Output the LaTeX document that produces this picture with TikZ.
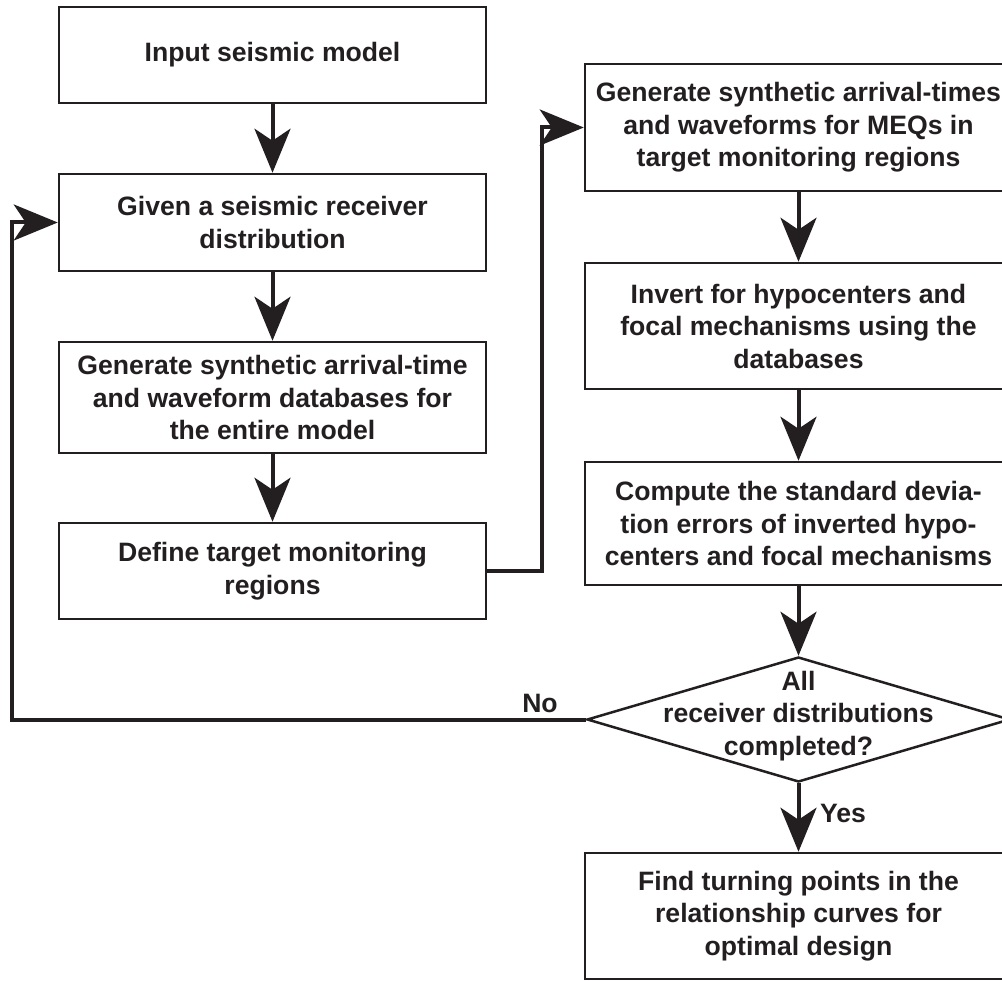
\documentclass[tikz,border=0pt]{standalone}
\usepackage{fontspec}
\setmainfont{Liberation Sans}
\usetikzlibrary{shapes.geometric,arrows.meta}
\definecolor{ink}{HTML}{231F20}
\begin{document}
\begin{tikzpicture}[x=1pt,y=-1pt,
  txt/.style={font=\bfseries\fontsize{26.6}{32.5}\selectfont, text=ink, align=center},
  box/.style={txt, draw=ink, line width=2.5pt, rectangle, inner sep=0pt, minimum width=427pt},
  conn/.style={draw=ink, line width=4pt, -{Stealth[length=44pt,width=36pt,inset=12pt]}},
]
\useasboundingbox (0,0) rectangle (1002,981);
% left column
\node[box, minimum height=96pt]  (b1) at (272.5,55)    {Input seismic model};
\node[box, minimum height=97pt]  (b2) at (272.5,222.5) {Given a seismic receiver\\distribution};
\node[box, minimum height=111pt] (b3) at (272.5,397.5) {Generate synthetic arrival-time\\and waveform databases for\\the entire model};
\node[box, minimum height=96pt]  (b4) at (272.5,571)   {Define target monitoring\\regions};
% right column
\node[box, minimum height=127pt] (b5) at (798.5,127.5) {Generate synthetic arrival-times\\and waveforms for MEQs in\\target monitoring regions};
\node[box, minimum height=126pt] (b6) at (798.5,326)   {Invert for hypocenters and\\focal mechanisms using the\\databases};
\node[box, minimum height=123pt] (b7) at (798.5,523.5) {Compute the standard devia-\\tion errors of inverted hypo-\\centers and focal mechanisms};
\node[diamond, draw=ink, line width=2.5pt, minimum width=423pt, minimum height=125pt, inner sep=0pt] (d) at (798.5,719.5) {};
\node[txt] (dt) at (798.5,716) {All\\receiver distributions\\completed?};
\node[box, minimum height=126pt] (b8) at (798.5,916)   {Find turning points in the\\relationship curves for\\optimal design};
% connectors
\draw[conn] (b1.south) -- (b2.north);
\draw[conn] (b2.south) -- (b3.north);
\draw[conn] (b3.south) -- (b4.north);
\draw[conn] (b4.east) -- ++(55,0) |- (b5.west);
\draw[conn] (b5.south) -- (b6.north);
\draw[conn] (b6.south) -- (b7.north);
\draw[conn] (b7.south) -- (d.north);
\draw[conn] (d.south) -- (b8.north);
\coordinate (loop) at (12,0);
\draw[conn] (d.west) -- (d.west -| loop) |- (b2.west);
% labels
\node[txt] (no) at (540,703) {No};
\node[txt] (yes) at (843,813) {Yes};
\end{tikzpicture}
\end{document}
